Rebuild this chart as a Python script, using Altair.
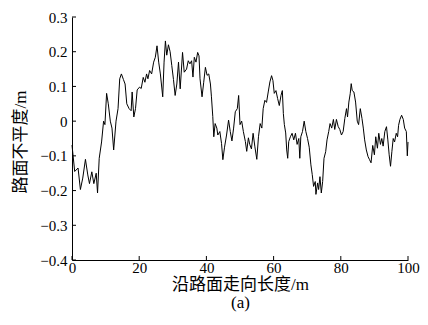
import altair as alt
import pandas as pd

# distance along the road (m) and road unevenness (m)
dist = [
    0.0, 0.8, 1.8, 2.5, 3.2, 4.0, 4.7, 5.2, 5.9, 6.5, 7.2, 7.6, 8.1, 8.8, 9.4, 9.8,
    10.3, 10.8, 11.4, 11.9, 12.4, 13.1, 13.7, 14.2, 14.7, 15.3, 15.8, 16.3, 17.0, 17.6,
    17.9, 18.4, 18.9, 19.4, 20.1, 20.6, 21.2, 21.7, 22.2, 22.6, 23.1, 23.7, 24.3, 24.8,
    25.3, 25.8, 26.3, 27.0, 27.4, 27.8, 28.2, 28.7, 29.2, 29.7, 30.2, 30.7, 31.2,
    31.7, 32.2, 32.9, 33.4, 34.1, 34.6, 35.1, 35.6, 36.0, 36.4, 36.9, 37.4, 37.8, 38.1,
    38.7, 39.2, 39.7, 40.2, 40.7, 41.2, 41.5, 41.9, 42.2, 42.6, 43.1, 43.4, 44.0, 44.5,
    44.9, 45.4, 46.0, 46.6, 47.1, 47.6, 48.1,
    48.6, 49.2, 49.6, 50.0, 50.5, 51.0, 51.6, 52.0, 52.5, 52.9, 53.4, 53.9, 54.4, 55.0,
    55.5, 56.0, 56.5, 56.9, 57.4, 57.9, 58.4, 58.9, 59.4, 59.8, 60.2, 60.7, 61.2, 61.7,
    62.2, 62.6, 62.9, 63.2, 63.6, 63.9, 64.2,
    64.5, 65.0, 65.5, 66.0, 66.5, 67.0, 67.5, 67.8, 68.1, 68.6, 69.1, 69.6, 70.1, 70.6,
    71.1, 71.5, 71.9, 72.4, 72.6, 73.1, 73.4, 73.8, 74.2, 74.6, 75.0, 75.5, 75.9, 76.4,
    76.8, 77.3, 77.8, 78.2, 78.7, 79.2, 79.7, 80.2,
    80.7, 81.2, 81.7, 82.0, 82.4, 82.8, 83.1, 83.4, 83.9, 84.4, 84.9, 85.3, 85.8, 86.3,
    86.7, 87.1, 87.6, 88.1, 88.5, 89.0, 89.5, 90.0, 90.4, 90.9, 91.3, 91.8, 92.2, 92.6,
    93.1, 93.6, 94.0, 94.4, 94.8, 95.2, 95.6, 96.0, 96.5, 96.9, 97.2, 97.6, 98.1,
    98.6, 99.0, 99.5, 99.8, 100.0,
]
rough = [
    -0.069, -0.145, -0.135, -0.197, -0.164, -0.110, -0.155, -0.180, -0.146, -0.180, -0.150, -0.207, -0.107, -0.060, 0.000, -0.010,
    0.080, 0.050, 0.000, -0.020, -0.083, 0.000, 0.036, 0.122, 0.136, 0.120, 0.107, 0.050, 0.036, 0.030,
    0.084, 0.012, 0.036, 0.090, 0.098, 0.094, 0.126, 0.112, 0.136, 0.122, 0.146, 0.136, 0.170, 0.184,
    0.217, 0.170, 0.136, 0.070, 0.170, 0.231, 0.190, 0.220, 0.200, 0.160, 0.120, 0.074, 0.107,
    0.170, 0.093, 0.198, 0.141, 0.150, 0.174, 0.165, 0.174, 0.127, 0.184, 0.170, 0.198, 0.188, 0.122,
    0.070, 0.112, 0.155, 0.132, 0.136, 0.107, 0.070, 0.013, -0.045, -0.007, -0.020, -0.040, -0.030, -0.064,
    -0.111, -0.075, -0.040, 0.003, -0.030, -0.057, -0.020,
    0.027, 0.036, 0.074, -0.010, 0.000, -0.030, -0.059, -0.087, -0.048, -0.067, -0.080, -0.035, -0.072, -0.110,
    -0.045, -0.007, -0.020, 0.036, 0.060, 0.054, 0.084, 0.113, 0.131, 0.117, 0.080, 0.088, 0.065, 0.045,
    0.074, 0.088, 0.022, -0.010, -0.034, -0.083, -0.107,
    -0.059, -0.045, -0.035, -0.054, -0.035, -0.067, -0.050, -0.107, -0.045, -0.030, 0.000, -0.030, -0.050, -0.075,
    -0.126, -0.154, -0.188, -0.174, -0.211, -0.178, -0.197, -0.160, -0.207, -0.174, -0.107, -0.088, -0.054, -0.030,
    -0.007, -0.020, 0.005, -0.024, 0.005, -0.015, -0.024, -0.040,
    -0.030, 0.008, 0.036, 0.012, 0.055, 0.079, 0.108, 0.088, 0.084, 0.055, 0.000, -0.010, 0.036, 0.008,
    -0.020, -0.054, -0.083, -0.102, -0.110, -0.120, -0.070, -0.097, -0.045, -0.078, -0.035, -0.067, -0.050, -0.072,
    -0.030, -0.016, -0.054, -0.097, -0.130, -0.088, -0.050, -0.060, -0.035, -0.045, -0.012, 0.005, 0.017,
    0.005, -0.020, -0.030, -0.100, -0.060,
]
x_ticks = [0, 20, 40, 60, 80, 100]
y_ticks = [-0.4, -0.3, -0.2, -0.1, 0.0, 0.1, 0.2, 0.3]

x_title = ["沿路面走向长度/m", "(a)"]
y_title = "路面不平度/m"

W, H = 336, 243
FONT = "Liberation Serif, DejaVu Serif, serif"
TFONT = "Liberation Serif, Noto Sans CJK SC, serif"

df = pd.DataFrame({"x": dist, "y": rough})
xt = pd.DataFrame({"x": x_ticks})
yt = pd.DataFrame({"y": y_ticks})

xscale = alt.Scale(domain=[0, 100], nice=False, zero=False)
yscale = alt.Scale(domain=[-0.4, 0.3], nice=False, zero=False)

xaxis = alt.Axis(
    values=x_ticks, ticks=False, grid=False, domainColor="black", domainWidth=1,
    labelFont=FONT, labelFontSize=15, labelColor="black", labelPadding=0,
    labelOverlap=False, labelFlush=False,
    title=x_title, titleFont=TFONT, titleFontSize=17, titleFontWeight="normal",
    titleColor="black", titleLineHeight=18, titleBaseline="top", titleAlign="center",
    titleX=W / 2, titleY=16,
)
yaxis = alt.Axis(
    values=y_ticks, ticks=False, grid=False, domainColor="black", domainWidth=1,
    labelFont=FONT, labelFontSize=15, labelColor="black", labelPadding=5,
    labelOverlap=False, labelFlush=False,
    labelExpr="abs(datum.value) < 1e-9 ? '0' : (datum.value < 0 ? '\u2212' + format(-datum.value, '.1f') : format(datum.value, '.1f'))",
    title=y_title, titleFont=TFONT, titleFontSize=17, titleFontWeight="normal",
    titleColor="black", titleBaseline="middle", titleAlign="center",
    titleX=-52, titleY=H / 2 + 3, titleAngle=-90,
)

line = alt.Chart(df).mark_line(color="black", strokeWidth=1).encode(
    x=alt.X("x:Q", scale=xscale, axis=xaxis),
    y=alt.Y("y:Q", scale=yscale, axis=yaxis),
)

yticks = alt.Chart(yt).mark_rule(color="black", strokeWidth=1).encode(
    y=alt.Y("y:Q", scale=yscale, axis=yaxis), x=alt.value(0), x2=alt.value(4)
)
xticks = alt.Chart(xt).mark_rule(color="black", strokeWidth=1).encode(
    x=alt.X("x:Q", scale=xscale, axis=xaxis), y=alt.value(H), y2=alt.value(H - 4)
)

chart = alt.layer(line, yticks, xticks).properties(
    width=W, height=H,
    autosize=alt.AutoSizeParams(type="none"),
    padding={"left": 64, "top": 9, "right": 12, "bottom": 57},
    background="white",
).configure_view(stroke=None)

chart.save("out.html", embed_options={"renderer": "svg", "actions": False})
